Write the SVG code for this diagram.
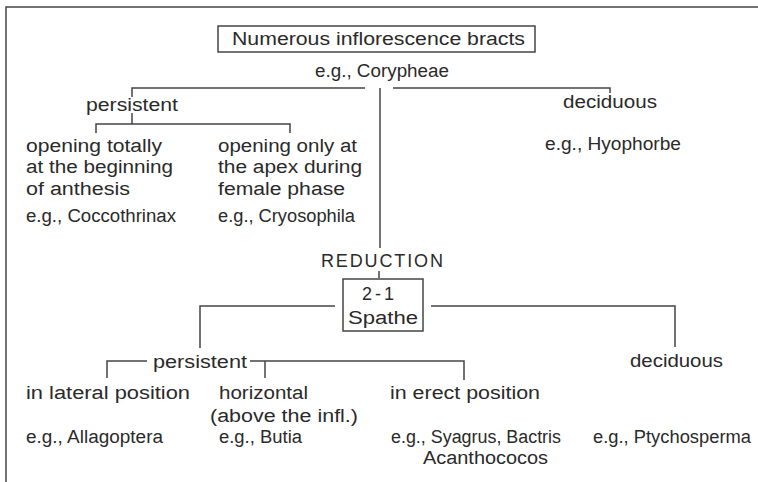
<svg xmlns="http://www.w3.org/2000/svg" width="758" height="482" viewBox="0 0 758 482">
<style>
text{font-family:"Liberation Sans",Arial,sans-serif;font-size:18px;fill:#2a2a2a;}
.box{fill:none;stroke:#444;stroke-width:1.5;}
.c{fill:none;stroke:#444;stroke-width:1.5;}
</style>
<rect width="758" height="482" fill="#fff"/>
<g id="frame" class="c"><path d="M6,482 V7 H758"/></g>
<g id="connectors" class="c">
<path d="M132,97 V88 H365"/>
<path d="M393,88 H610 V93"/>
<path d="M380,88 V248"/>
<path d="M96,133 V124 H290 V133"/>
<path d="M132,113 V124"/>
<path d="M379,271 V278"/>
<path d="M335,306 H200 V348"/>
<path d="M431,306 H675 V347"/>
<path d="M107,378 V361 H147"/>
<path d="M250,361 H464 V380"/>
<path d="M265,361 V378"/>
</g>
<g id="n-root">
<rect class="box" x="218" y="26" width="317" height="26"/>
<text x="232" y="45" textLength="293" lengthAdjust="spacingAndGlyphs">Numerous inflorescence bracts</text>
<text x="315" y="77" textLength="134" lengthAdjust="spacingAndGlyphs">e.g., Corypheae</text>
</g>
<g id="n-persistent1"><text x="86" y="111" textLength="92" lengthAdjust="spacingAndGlyphs">persistent</text></g>
<g id="n-deciduous1"><text x="563" y="108" textLength="94" lengthAdjust="spacingAndGlyphs">deciduous</text>
<text x="545" y="150" textLength="136" lengthAdjust="spacingAndGlyphs">e.g., Hyophorbe</text></g>
<g id="n-totally">
<text x="26" y="152" textLength="136" lengthAdjust="spacingAndGlyphs">opening totally</text>
<text x="26" y="173" textLength="147" lengthAdjust="spacingAndGlyphs">at the beginning</text>
<text x="26" y="195" textLength="104" lengthAdjust="spacingAndGlyphs">of anthesis</text>
<text x="26" y="222" textLength="150" lengthAdjust="spacingAndGlyphs">e.g., Coccothrinax</text>
</g>
<g id="n-apex">
<text x="218" y="152" textLength="139" lengthAdjust="spacingAndGlyphs">opening only at</text>
<text x="218" y="173" textLength="144" lengthAdjust="spacingAndGlyphs">the apex during</text>
<text x="218" y="195" textLength="127" lengthAdjust="spacingAndGlyphs">female phase</text>
<text x="218" y="222" textLength="137" lengthAdjust="spacingAndGlyphs">e.g., Cryosophila</text>
</g>
<g id="n-reduction"><text x="321" y="267" textLength="122" lengthAdjust="spacing">REDUCTION</text></g>
<g id="n-spathe">
<rect class="box" x="343" y="279" width="80" height="52"/>
<text x="362" y="300" textLength="32" lengthAdjust="spacing">2-1</text>
<text x="348" y="324" textLength="70" lengthAdjust="spacingAndGlyphs">Spathe</text>
</g>
<g id="n-persistent2"><text x="153" y="368" textLength="94" lengthAdjust="spacingAndGlyphs">persistent</text></g>
<g id="n-deciduous2"><text x="630" y="367" textLength="93" lengthAdjust="spacingAndGlyphs">deciduous</text>
<text x="593" y="443" textLength="158" lengthAdjust="spacingAndGlyphs">e.g., Ptychosperma</text></g>
<g id="n-lateral">
<text x="26" y="399" textLength="164" lengthAdjust="spacingAndGlyphs">in lateral position</text>
<text x="26" y="443" textLength="137" lengthAdjust="spacingAndGlyphs">e.g., Allagoptera</text>
</g>
<g id="n-horizontal">
<text x="219" y="399" textLength="89" lengthAdjust="spacingAndGlyphs">horizontal</text>
<text x="210" y="422" textLength="148" lengthAdjust="spacingAndGlyphs">(above the infl.)</text>
<text x="219" y="443" textLength="83" lengthAdjust="spacingAndGlyphs">e.g., Butia</text>
</g>
<g id="n-erect">
<text x="390" y="399" textLength="150" lengthAdjust="spacingAndGlyphs">in erect position</text>
<text x="391" y="443" textLength="170" lengthAdjust="spacingAndGlyphs">e.g., Syagrus, Bactris</text>
<text x="423" y="464" textLength="125" lengthAdjust="spacingAndGlyphs">Acanthococos</text>
</g>
</svg>
